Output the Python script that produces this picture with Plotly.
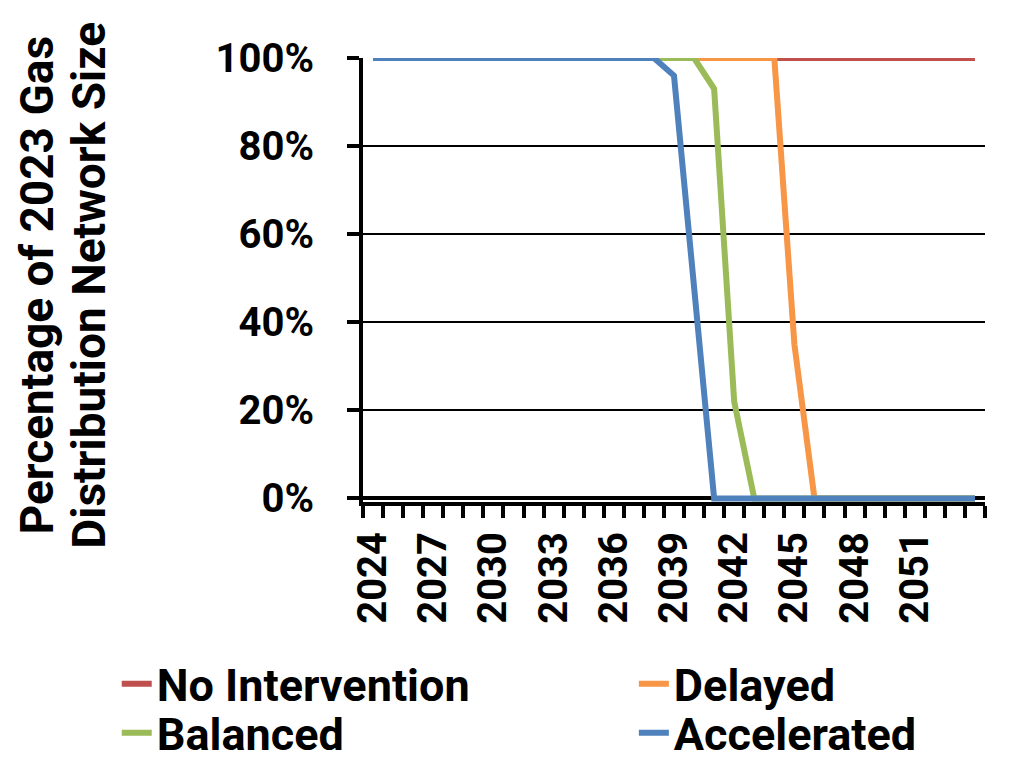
import plotly.graph_objects as go

# ---------------- data ----------------
years = [2024, 2025, 2026, 2027, 2028, 2029, 2030, 2031, 2032, 2033,
         2034, 2035, 2036, 2037, 2038, 2039, 2040, 2041, 2042, 2043,
         2044, 2045, 2046, 2047, 2048, 2049, 2050, 2051, 2052, 2053, 2054]

no_intervention = [100, 100, 100, 100, 100, 100, 100, 100, 100, 100,
                   100, 100, 100, 100, 100, 100, 100, 100, 100, 100,
                   100, 100, 100, 100, 100, 100, 100, 100, 100, 100, 100]

delayed = [100, 100, 100, 100, 100, 100, 100, 100, 100, 100,
           100, 100, 100, 100, 100, 100, 100, 100, 100, 100,
           100, 35, 0, 0, 0, 0, 0, 0, 0, 0, 0]

balanced = [100, 100, 100, 100, 100, 100, 100, 100, 100, 100,
            100, 100, 100, 100, 100, 100, 100, 93, 22, 0,
            0, 0, 0, 0, 0, 0, 0, 0, 0, 0, 0]

accelerated = [100, 100, 100, 100, 100, 100, 100, 100, 100, 100,
               100, 100, 100, 100, 100, 96, 48, 0, 0, 0,
               0, 0, 0, 0, 0, 0, 0, 0, 0, 0, 0]

x_tick_years = [2024, 2027, 2030, 2033, 2036, 2039, 2042, 2045, 2048, 2051]
x_tick_labels = ["2024", "2027", "2030", "2033", "2036", "2039", "2042", "2045", "2048", "2051"]
y_tick_values = [0, 20, 40, 60, 80, 100]
y_tick_labels = ["0%", "20%", "40%", "60%", "80%", "100%"]

y_title_lines = ["Percentage of 2023 Gas", "Distribution Network Size"]

# name, values, colour, legend id
series = [
    ("No Intervention", no_intervention, "#C0504D", "legend"),
    ("Delayed", delayed, "#F79646", "legend2"),
    ("Balanced", balanced, "#9BBB59", "legend3"),
    ("Accelerated", accelerated, "#4F81BD", "legend4"),
]

# ---------------- figure ----------------
FONT = dict(family="Roboto", color="black", size=40, weight="bold")
LEG_FONT = dict(family="Roboto", color="black", size=45, weight="bold")
TITLE_FONT = dict(family="Roboto", color="black", size=46, weight="bold")

fig = go.Figure()
for name, vals, color, leg in series:
    fig.add_trace(go.Scatter(
        x=years, y=vals, name=name, mode="lines",
        line=dict(color=color, width=6),
        legend=leg,
        hoverinfo="skip",
    ))

boundaries = [y - 0.5 for y in years] + [years[-1] + 0.5]


def legend_box(x, y):
    return dict(
        xref="container", yref="container",
        x=x, xanchor="left", y=y, yanchor="middle",
        font=LEG_FONT, itemwidth=30,
        bgcolor="rgba(0,0,0,0)", borderwidth=0,
    )


fig.update_layout(
    width=1024, height=766,
    margin=dict(l=363, r=39, t=58, b=264, autoexpand=False),
    paper_bgcolor="white", plot_bgcolor="white",
    font=FONT,
    showlegend=True,
    legend=legend_box(0.114, 1 - 684 / 766),
    legend2=legend_box(0.619, 1 - 684 / 766),
    legend3=legend_box(0.114, 1 - 733 / 766),
    legend4=legend_box(0.619, 1 - 733 / 766),
)

fig.update_xaxes(
    range=[years[0] - 0.5, years[-1] + 0.5],
    tickvals=x_tick_years, ticktext=x_tick_labels,
    tickangle=-90,
    ticks="outside", ticklen=12, tickcolor="rgba(0,0,0,0)", tickwidth=4,
    ticklabelstandoff=-2,
    minor=dict(tickvals=boundaries, ticks="outside", ticklen=12,
               tickwidth=4, tickcolor="black", showgrid=False),
    showgrid=False, zeroline=False,
    showline=True, linecolor="black", linewidth=4,
    layer="below traces",
    tickfont=FONT,
)

fig.update_yaxes(
    range=[-0.8, 100],
    tickvals=y_tick_values, ticktext=y_tick_labels,
    ticks="outside", ticklen=12, tickwidth=4, tickcolor="black",
    ticklabelstandoff=25,
    showgrid=True, gridcolor="black", gridwidth=2,
    zeroline=True, zerolinecolor="black", zerolinewidth=4,
    showline=True, linecolor="black", linewidth=4,
    layer="below traces",
    tickfont=FONT,
)

# two-line y-axis title (tight line spacing as in the reference)
for text, xp in zip(y_title_lines, [-0.5240, -0.4400]):
    fig.add_annotation(
        text=text, xref="paper", yref="paper",
        x=xp, y=0.488, xanchor="center", yanchor="middle",
        textangle=-90, showarrow=False, font=TITLE_FONT,
    )

fig.write_html("out.html", config={"displayModeBar": False},
               post_script="document.body.style.margin='0';")
